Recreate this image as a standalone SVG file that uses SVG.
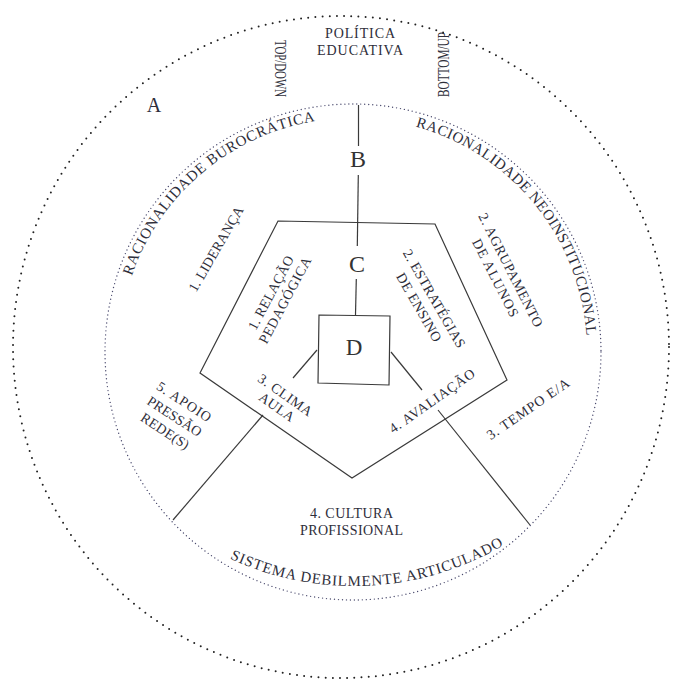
<svg xmlns="http://www.w3.org/2000/svg" width="682" height="680" viewBox="0 0 682 680">
<style>
.t{font-family:"Liberation Serif","DejaVu Serif",serif;fill:#2e2e3a;font-size:14px}
.c{text-anchor:middle}
.arc{font-size:15px}
.big{font-size:24px;fill:#333}
.ln{stroke:#3a3a3a;stroke-width:1.2;fill:none}
</style>
<defs>
<path id="p1" d="M130.45,279.69 A234,234 0 0 1 320.43,120.28"/>
<path id="p2" d="M409.61,124.95 A234,234 0 0 1 586.86,343.83"/>
<path id="p3" d="M224.68,556.14 A295,295 0 0 0 510.33,541.17"/>
</defs>
<rect width="682" height="680" fill="#fff"/>
<g id="ringA">
<ellipse cx="341" cy="347" rx="328" ry="331" fill="none" stroke="#222" stroke-width="2" stroke-dasharray="0 7.2" stroke-linecap="round"/>
<text class="t c" x="360" y="38" textLength="70">POLÍTICA</text>
<text class="t c" x="360" y="55" textLength="86">EDUCATIVA</text>
<text class="t c" transform="translate(280,68.5) rotate(90)" x="0" y="5.2" style="font-size:16px" textLength="57" lengthAdjust="spacingAndGlyphs">TOP/DOWN</text>
<text class="t c" transform="translate(444,64.5) rotate(-90)" x="0" y="5.2" style="font-size:16px" textLength="65" lengthAdjust="spacingAndGlyphs">BOTTOM/UP</text>
<text class="t c" x="154" y="112" style="font-size:20px">A</text>
</g>
<g id="ringB">
<circle cx="353" cy="352" r="248" fill="none" stroke="#4b4b6e" stroke-width="1.4" stroke-dasharray="0 4" stroke-linecap="round"/>
<text class="t big c" x="358" y="167">B</text>
<text class="t arc"><textPath href="#p1" startOffset="4" textLength="252">RACIONALIDADE  BUROCRÁTICA</textPath></text>
<text class="t arc"><textPath href="#p2" startOffset="6" textLength="288">RACIONALIDADE  NEOINSTITUCIONAL</textPath></text>
<text class="t arc"><textPath href="#p3" startOffset="5.7" textLength="285">SISTEMA  DEBILMENTE  ARTICULADO</textPath></text>
<text class="t c" transform="translate(216,249) rotate(-60)" x="0" y="4.6" textLength="96">1. LIDERANÇA</text>
<g transform="translate(503,274) rotate(63)">
<text class="t c" x="0" y="-4" textLength="126">2. AGRUPAMENTO</text>
<text class="t c" x="0" y="13.2" textLength="86">DE ALUNOS</text>
</g>
<text class="t c" transform="translate(528,409) rotate(-34.5)" x="0" y="4.6" textLength="97">3. TEMPO E/A</text>
<g transform="translate(174.5,416.5) rotate(33)">
<text class="t c" x="0" y="-12.9" textLength="62">5. APOIO</text>
<text class="t c" x="0" y="4.6" textLength="62">PRESSÃO</text>
<text class="t c" x="0" y="22.1" textLength="55">REDE(S)</text>
</g>
<text class="t c" x="351.5" y="518" textLength="83">4. CULTURA</text>
<text class="t c" x="351.5" y="535" textLength="103">PROFISSIONAL</text>
</g>
<g id="pentagonC">
<polygon class="ln" points="278,221 435,224 507,380 352,478 200,373"/>
<text class="t big c" x="357" y="272">C</text>
<g transform="translate(278,296.5) rotate(-62)">
<text class="t c" x="0" y="-3.4" textLength="82">1. RELAÇÃO</text>
<text class="t c" x="0" y="12.6" textLength="96">PEDAGÓGICA</text>
</g>
<g transform="translate(426.5,303) rotate(60)">
<text class="t c" x="0" y="-4.2" textLength="111">2. ESTRATÉGIAS</text>
<text class="t c" x="0" y="13.4" textLength="77">DE ENSINO</text>
</g>
<g transform="translate(281,401) rotate(35)">
<text class="t c" x="0" y="-2.8" textLength="63">3. CLIMA</text>
<text class="t c" x="0" y="12" textLength="40">AULA</text>
</g>
<text class="t c" transform="translate(432,401) rotate(-35)" x="0" y="4.6" textLength="101">4. AVALIAÇÃO</text>
</g>
<g id="squareD">
<polygon class="ln" points="319,315 390,316 389,385 318,383"/>
<text class="t big c" x="354" y="355" style="font-size:23px">D</text>
</g>
<g id="connectors">
<line class="ln" x1="358.5" y1="105" x2="358.5" y2="146" stroke="#3d3550"/>
<line class="ln" x1="358.3" y1="175" x2="357.3" y2="246" stroke="#3d3550"/>
<line class="ln" x1="356.3" y1="279" x2="355.5" y2="315"/>
<line class="ln" x1="317" y1="350" x2="293" y2="378"/>
<line class="ln" x1="263" y1="415" x2="173" y2="520"/>
<line class="ln" x1="391" y1="352" x2="422" y2="390"/>
<line class="ln" x1="438" y1="410" x2="530" y2="525"/>
</g>
</svg>
